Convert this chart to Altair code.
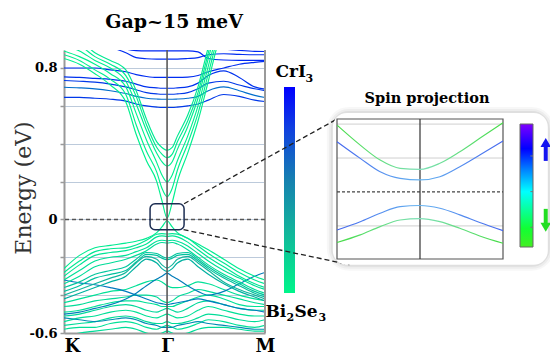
import altair as alt
import pandas as pd

SERIF = "DejaVu Serif"

# ---------------- main panel: K - Gamma - M ----------------
K_PTS = [0, 0.15, 0.3, 0.45, 0.6, 0.7, 0.8, 0.9, 0.95, 1.0, 1.05, 1.1, 1.2, 1.3, 1.4, 1.55, 1.7, 1.85, 1.95]
K_DOMAIN = [0, 1.95]
E_DOMAIN = [-0.6, 0.895]
K_TICKS = [0, 1.0, 1.95]
K_LABELS = ["K", "Γ", "M"]
E_TICKS = [-0.6, -0.4, -0.2, 0, 0.2, 0.4, 0.6, 0.8]
E_LABELED = [(0.8, "0.8"), (0, "0"), (-0.6, "-0.6")]
TITLE = "Gap~15 meV"

# projection weight: 0 = Bi2Se3, 1 = CrI3
COND_BANDS = [
    ("c0", 0.03, [0.85, 0.82, 0.77, 0.71, 0.62, 0.45, 0.31, 0.20, 0.10, 0.007, 0.09, 0.20, 0.35, 0.52, 0.73, 1.05, 1.3, 1.5, 1.6]),
    ("c1", 0.03, [0.87, 0.84, 0.79, 0.74, 0.66, 0.50, 0.36, 0.25, 0.165, 0.12, 0.165, 0.26, 0.40, 0.56, 0.77, 1.08, 1.3, 1.5, 1.6]),
    ("c2", 0.03, [0.89, 0.86, 0.82, 0.77, 0.70, 0.56, 0.42, 0.30, 0.235, 0.198, 0.235, 0.31, 0.44, 0.60, 0.81, 1.1, 1.3, 1.5, 1.6]),
    ("c3", 0.04, [0.92, 0.89, 0.84, 0.80, 0.73, 0.61, 0.47, 0.35, 0.305, 0.282, 0.305, 0.37, 0.49, 0.64, 0.85, 1.15, 1.35, 1.5, 1.6]),
    ("c4", 0.05, [0.95, 0.92, 0.86, 0.82, 0.76, 0.65, 0.50, 0.38, 0.345, 0.326, 0.345, 0.41, 0.52, 0.67, 0.88, 1.2, 1.4, 1.5, 1.6]),
    ("c5", 0.06, [0.98, 0.95, 0.88, 0.84, 0.79, 0.68, 0.53, 0.41, 0.38, 0.365, 0.38, 0.44, 0.55, 0.70, 0.91, 1.2, 1.4, 1.5, 1.6]),
]
CRI3_BANDS = [
    ("bA", 0.92, [0.97, 0.96, 0.95, 0.93, 0.90, 0.892, 0.89, 0.89, 0.89, 0.89, 0.89, 0.89, 0.89, 0.885, 0.85, 0.842, 0.84, 0.84, 0.84]),
    ("bB", 0.90, [0.95, 0.94, 0.93, 0.91, 0.88, 0.855, 0.849, 0.847, 0.847, 0.847, 0.847, 0.847, 0.85, 0.855, 0.87, 0.875, 0.872, 0.87, 0.87]),
    ("bC", 0.92, [0.99, 0.98, 0.97, 0.96, 0.95, 0.94, 0.93, 0.92, 0.92, 0.92, 0.92, 0.92, 0.92, 0.92, 0.91, 0.90, 0.893, 0.888, 0.887]),
    ("bD", 0.90, [0.80, 0.80, 0.80, 0.79, 0.78, 0.765, 0.755, 0.75, 0.75, 0.75, 0.75, 0.75, 0.752, 0.76, 0.78, 0.80, 0.82, 0.83, 0.835]),
    ("bE", 0.88, [0.753, 0.75, 0.745, 0.74, 0.73, 0.715, 0.70, 0.695, 0.693, 0.693, 0.693, 0.695, 0.70, 0.72, 0.76, 0.785, 0.75, 0.70, 0.688]),
    ("bF", 0.85, [0.734, 0.73, 0.725, 0.715, 0.70, 0.685, 0.67, 0.663, 0.661, 0.661, 0.661, 0.663, 0.67, 0.69, 0.72, 0.73, 0.71, 0.69, 0.68]),
    ("bG", 0.65, [0.698, 0.695, 0.69, 0.68, 0.665, 0.65, 0.64, 0.636, 0.635, 0.635, 0.635, 0.636, 0.64, 0.65, 0.68, 0.70, 0.68, 0.655, 0.644]),
    ("bH", 0.85, [0.645, 0.645, 0.64, 0.635, 0.625, 0.61, 0.60, 0.593, 0.591, 0.591, 0.591, 0.593, 0.60, 0.61, 0.63, 0.66, 0.65, 0.63, 0.623]),
]
VAL_BANDS = [
    ("v0", 0.05, [-0.26, -0.19, -0.15, -0.137, -0.125, -0.115, -0.10, -0.07, -0.04, -0.007, -0.04, -0.07, -0.10, -0.13, -0.16, -0.21, -0.26, -0.30, -0.32]),
    ("v1", 0.07, [-0.28, -0.22, -0.17, -0.155, -0.15, -0.135, -0.11, -0.078, -0.075, -0.077, -0.075, -0.078, -0.10, -0.14, -0.18, -0.23, -0.28, -0.32, -0.34]),
    ("v2", 0.08, [-0.30, -0.24, -0.19, -0.175, -0.165, -0.15, -0.13, -0.092, -0.087, -0.09, -0.087, -0.092, -0.12, -0.16, -0.20, -0.25, -0.30, -0.34, -0.36]),
    ("v3", 0.10, [-0.32, -0.27, -0.22, -0.20, -0.19, -0.17, -0.15, -0.115, -0.11, -0.113, -0.11, -0.115, -0.14, -0.18, -0.22, -0.27, -0.31, -0.35, -0.37]),
    ("v4", 0.12, [-0.34, -0.30, -0.25, -0.23, -0.21, -0.19, -0.165, -0.13, -0.122, -0.125, -0.122, -0.13, -0.16, -0.20, -0.24, -0.29, -0.33, -0.37, -0.39]),
    ("v5", 0.22, [-0.36, -0.33, -0.29, -0.27, -0.25, -0.21, -0.175, -0.18, -0.195, -0.204, -0.195, -0.18, -0.175, -0.21, -0.25, -0.30, -0.34, -0.38, -0.40]),
    ("v6", 0.25, [-0.38, -0.35, -0.31, -0.29, -0.27, -0.225, -0.185, -0.19, -0.205, -0.213, -0.205, -0.19, -0.185, -0.22, -0.26, -0.31, -0.35, -0.39, -0.41]),
    ("v7", 0.30, [-0.40, -0.37, -0.34, -0.31, -0.28, -0.23, -0.195, -0.21, -0.24, -0.257, -0.24, -0.21, -0.195, -0.23, -0.27, -0.33, -0.37, -0.40, -0.42]),
    ("v8", 0.32, [-0.42, -0.39, -0.36, -0.33, -0.30, -0.25, -0.21, -0.23, -0.26, -0.275, -0.26, -0.23, -0.21, -0.25, -0.29, -0.34, -0.38, -0.41, -0.43]),
]
DEEP_BANDS = [
    ("d1", 0.10, [-0.44, -0.42, -0.40, -0.38, -0.37, -0.35, -0.33, -0.32, -0.33, -0.35, -0.36, -0.36, -0.35, -0.33, -0.34, -0.37, -0.40, -0.42, -0.43]),
    ("d2", 0.12, [-0.46, -0.45, -0.43, -0.42, -0.41, -0.40, -0.40, -0.41, -0.43, -0.44, -0.43, -0.41, -0.39, -0.37, -0.38, -0.40, -0.42, -0.44, -0.45]),
    ("d3", 0.10, [-0.49, -0.48, -0.46, -0.44, -0.43, -0.43, -0.44, -0.45, -0.46, -0.46, -0.46, -0.45, -0.43, -0.41, -0.40, -0.42, -0.45, -0.46, -0.46]),
    ("d4", 0.14, [-0.51, -0.50, -0.48, -0.46, -0.45, -0.46, -0.48, -0.49, -0.48, -0.47, -0.48, -0.49, -0.47, -0.44, -0.43, -0.45, -0.47, -0.48, -0.48]),
    ("d5", 0.10, [-0.54, -0.52, -0.51, -0.49, -0.48, -0.49, -0.51, -0.52, -0.51, -0.50, -0.51, -0.52, -0.51, -0.48, -0.46, -0.48, -0.50, -0.51, -0.51]),
    ("d6", 0.12, [-0.56, -0.55, -0.54, -0.52, -0.51, -0.52, -0.54, -0.55, -0.55, -0.54, -0.55, -0.55, -0.54, -0.52, -0.50, -0.51, -0.53, -0.54, -0.53]),
    ("d7", 0.10, [-0.58, -0.57, -0.57, -0.55, -0.54, -0.55, -0.57, -0.58, -0.57, -0.56, -0.57, -0.58, -0.57, -0.55, -0.53, -0.54, -0.56, -0.57, -0.56]),
    ("d8", 0.12, [-0.62, -0.60, -0.59, -0.58, -0.57, -0.58, -0.60, -0.61, -0.60, -0.59, -0.60, -0.61, -0.60, -0.58, -0.57, -0.57, -0.58, -0.59, -0.59]),
    ("bl1", 0.58, [-0.50, -0.49, -0.47, -0.45, -0.42, -0.39, -0.35, -0.315, -0.30, -0.284, -0.30, -0.315, -0.35, -0.38, -0.40, -0.38, -0.34, -0.30, -0.28]),
    ("bl2", 0.60, [-0.32, -0.335, -0.345, -0.36, -0.38, -0.40, -0.42, -0.44, -0.445, -0.45, -0.445, -0.44, -0.43, -0.42, -0.43, -0.45, -0.47, -0.48, -0.49]),
    ("bl3", 0.50, [-0.52, -0.53, -0.54, -0.53, -0.52, -0.53, -0.55, -0.56, -0.57, -0.57, -0.57, -0.56, -0.55, -0.54, -0.55, -0.56, -0.57, -0.58, -0.58]),
]
GAP_BOX = {"k0": 0.835, "k1": 1.165, "E0": -0.054, "E1": 0.083}
ZOOM_LINES = {"k0": [1.165, 1.16], "E0": [0.083, -0.054], "k1": [2.655, 2.77], "E1": [0.532, -0.239]}

MAIN_STOPS = [(0, "#00f58a"), (0.3, "#12b59c"), (0.55, "#1680b0"), (0.8, "#1040e0"), (1, "#0000ff")]

# ---------------- inset: spin projection ----------------
INSET_K = [-1, -0.72, -0.48, -0.24, 0, 0.24, 0.48, 0.72, 1]
# (name, edge colour, centre colour, energies in meV)
INSET_BANDS = [
    ("cb_up", "#45dc45", "#7fe0b8", [39.4, 27.6, 18.8, 13.9, 13.3, 16.9, 23.7, 31.6, 40.8]),
    ("cb_lo", "#4466ee", "#66b4f0", [29.6, 19.8, 11.9, 8.0, 7.1, 9.0, 14.9, 21.8, 30.0]),
    ("vb_up", "#4466ee", "#66b4f0", [-22.4, -17.5, -12.5, -8.6, -8.0, -9.6, -13.5, -18.0, -22.8]),
    ("vb_lo", "#45dc45", "#7fe0b8", [-29.8, -25.3, -20.4, -16.5, -15.7, -17.5, -21.4, -25.9, -30.2]),
]
INSET_K_DOMAIN = [-1, 1]
INSET_E_DOMAIN = [-39.5, 43]
INSET_GRID = [-20, 20, 40]
INSET_BOX = {"k0": -1.05, "k1": 1.54, "E0": -42.9, "E1": 46.5}
INSET_TITLE = "Spin projection"
INSET_STOPS = [(0, "#44ee22"), (0.15, "#11ff33"), (0.45, "#00ffff"), (0.62, "#0088ff"), (0.8, "#0000ff"), (1, "#7f00ff")]
INSET_CBAR_TICKS = [0.16, 0.45, 0.74]
ARROWS = [
    {"x": 1.98, "t0": 0.70, "t1": 0.85, "head": "triangle-up", "col": "#1414f0"},
    {"x": 1.98, "t0": 0.31, "t1": 0.16, "head": "triangle-down", "col": "#22dd22"},
]

# ---------------- layout (pixels inside the plot area) ----------------
W, H = 201, 283
INSET_X_RANGE = [273, 439]
INSET_Y_RANGE = [209, 69]
CBAR_X_RANGE = [220, 231]
CBAR_Y_RANGE = [243, 37]
ICBAR_X_RANGE = [456, 469]
ICBAR_Y_RANGE = [197, 74]


def band_df(bands, kpts):
    rows = []
    for name, w, es in bands:
        for k, e in zip(kpts, es):
            rows.append({"band": name, "w": w, "k": k, "E": e})
    return pd.DataFrame(rows)


def cond_expr(pairs, default):
    expr = f"'{default}'"
    for v, lab in reversed(pairs):
        expr = f"datum.value == {v} ? '{lab}' : ({expr})"
    return expr


X_AXIS = alt.Axis(
    values=K_TICKS,
    labelExpr=cond_expr(list(zip(K_TICKS, K_LABELS)), ""),
    grid=False, ticks=False,
    domainColor="#9a9a9a", domainWidth=2,
    labelFont=SERIF, labelFontWeight="bold", labelFontSize=18, labelColor="black",
    labelPadding=4, labelFlush=False,
    labelAlign={"condition": {"test": f"datum.value == {K_TICKS[0]}", "value": "left"}, "value": "center"},
)
Y_AXIS = alt.Axis(
    values=E_TICKS,
    labelExpr=cond_expr(E_LABELED, ""),
    grid=True, gridColor="#bccadb", gridWidth=1,
    tickColor="#9a9a9a", tickSize=4, tickWidth=1.5,
    domainColor="#9a9a9a", domainWidth=2,
    labelFont=SERIF, labelFontWeight="bold", labelFontSize=13, labelColor="black", labelPadding=3,
    titleFont=SERIF, titleFontWeight="normal", titleFontSize=22, titleColor="#333333",
    titleX=-34, titleY=H / 2 - 4, titleAngle=270, titleAlign="center", titleBaseline="alphabetic",
)
xs = alt.Scale(domain=K_DOMAIN, nice=False, zero=False)
ys = alt.Scale(domain=E_DOMAIN, nice=False, zero=False)
MAIN_COLOR = alt.Scale(domain=[s[0] for s in MAIN_STOPS], range=[s[1] for s in MAIN_STOPS])


def MX(f="k"):
    return alt.X(f"{f}:Q", scale=xs, axis=X_AXIS, title=None)


def MY(f="E"):
    return alt.Y(f"{f}:Q", scale=ys, axis=Y_AXIS, title="Energy (eV)")


def band_layer(bands):
    return alt.Chart(band_df(bands, K_PTS)).mark_line(
        clip=True, strokeWidth=1.15, interpolate="monotone"
    ).encode(x=MX(), y=MY(), color=alt.Color("w:Q", scale=MAIN_COLOR, legend=None), detail="band:N")


gamma_line = alt.Chart(pd.DataFrame({"k": [K_TICKS[1]]})).mark_rule(color="#5a5a5a", strokeWidth=1.6).encode(x=MX())
right_edge = alt.Chart(pd.DataFrame({"k": [K_TICKS[2]]})).mark_rule(color="#9a9a9a", strokeWidth=2).encode(x=MX())
zero_line = alt.Chart(pd.DataFrame({"E": [0]})).mark_rule(color="#555555", strokeWidth=1.5, strokeDash=[4, 3]).encode(y=MY())
gap_box = alt.Chart(pd.DataFrame([GAP_BOX])).mark_rect(
    fillOpacity=0, stroke="#1c2d52", strokeWidth=1.5, cornerRadius=5
).encode(x=MX("k0"), x2="k1", y=MY("E0"), y2="E1")

main = alt.layer(
    band_layer(CRI3_BANDS), band_layer(DEEP_BANDS), band_layer(VAL_BANDS), band_layer(COND_BANDS),
    gamma_line, right_edge, zero_line, gap_box,
)

# main colour bar
cx = alt.Scale(domain=[0, 1], range=CBAR_X_RANGE, nice=False, zero=False)
cy = alt.Scale(domain=[0, 1], range=CBAR_Y_RANGE, nice=False, zero=False)
cbar_rect = alt.Chart(pd.DataFrame({"x0": [0], "x1": [1], "t0": [0], "t1": [1]})).mark_rect(
    fill=alt.LinearGradient(
        gradient="linear", x1=0, x2=0, y1=1, y2=0,
        stops=[alt.GradientStop(offset=o, color=c) for o, c in MAIN_STOPS],
    )
).encode(x=alt.X("x0:Q", scale=cx, axis=None), x2="x1", y=alt.Y("t0:Q", scale=cy, axis=None), y2="t1")

CBAR_TEXT = [
    ("CrI", 1, -14, -10, 17),
    ("3", 1, 16, -5, 11),
    ("Bi", 0, -24, 24, 17),
    ("2", 0, -3, 28, 11),
    ("Se", 0, 5, 24, 17),
    ("3", 0, 29, 28, 11),
]
cbar_layers = [cbar_rect]
for txt, t, dx, dy, size in CBAR_TEXT:
    cbar_layers.append(
        alt.Chart(pd.DataFrame({"x": [0.5], "t": [t], "text": [txt]})).mark_text(
            font=SERIF, fontWeight="bold", fontSize=size, align="left", baseline="alphabetic",
            dx=dx, dy=dy, color="black"
        ).encode(x=alt.X("x:Q", scale=cx, axis=None), y=alt.Y("t:Q", scale=cy, axis=None), text="text:N")
    )
cbar_main = alt.layer(*cbar_layers)

# zoom connector lines and the figure title (main coordinates, no axes)
zoom = alt.Chart(pd.DataFrame(ZOOM_LINES)).mark_rule(
    color="#222222", strokeWidth=1.3, strokeDash=[5, 3]
).encode(
    x=alt.X("k0:Q", scale=xs, axis=None), x2="k1",
    y=alt.Y("E0:Q", scale=ys, axis=None), y2="E1",
)
title_text = alt.Chart(pd.DataFrame({"k": [K_TICKS[1]], "E": [E_DOMAIN[1]], "text": [TITLE]})).mark_text(
    font=SERIF, fontWeight="bold", fontSize=19, color="black", align="center", baseline="alphabetic",
    dx=7, dy=-22,
).encode(x=alt.X("k:Q", scale=xs, axis=None), y=alt.Y("E:Q", scale=ys, axis=None), text="text:N")
annot = alt.layer(zoom, title_text)

# inset
isx = alt.Scale(domain=INSET_K_DOMAIN, range=INSET_X_RANGE, nice=False, zero=False)
isy = alt.Scale(domain=INSET_E_DOMAIN, range=INSET_Y_RANGE, nice=False, zero=False)


def IX(f):
    return alt.X(f"{f}:Q", scale=isx, axis=None)


def IY(f):
    return alt.Y(f"{f}:Q", scale=isy, axis=None)


box_df = pd.DataFrame([INSET_BOX])
shadows = [
    alt.Chart(box_df).mark_rect(cornerRadius=16, fillOpacity=0, stroke="black", strokeOpacity=op, strokeWidth=sw)
    .encode(x=IX("k0"), x2="k1", y=IY("E0"), y2="E1")
    for sw, op in [(12, 0.03), (8, 0.04), (4, 0.06)]
]
white_box = alt.Chart(box_df).mark_rect(cornerRadius=14, fill="white").encode(
    x=IX("k0"), x2="k1", y=IY("E0"), y2="E1"
)
grid_df = pd.DataFrame({"E": INSET_GRID, "k0": INSET_K_DOMAIN[0], "k1": INSET_K_DOMAIN[1]})
inset_grid = alt.Chart(grid_df).mark_rule(color="#cfcfcf", strokeWidth=1).encode(
    x=IX("k0"), x2="k1", y=IY("E")
)
frame_df = pd.DataFrame({"k0": [INSET_K_DOMAIN[0]], "k1": [INSET_K_DOMAIN[1]],
                         "E0": [INSET_E_DOMAIN[0]], "E1": [INSET_E_DOMAIN[1]]})
inset_frame = alt.Chart(frame_df).mark_rect(fillOpacity=0, stroke="#555555", strokeWidth=1.2).encode(
    x=IX("k0"), x2="k1", y=IY("E0"), y2="E1"
)
inset_zero = alt.Chart(pd.DataFrame({"E": [0], "k0": [INSET_K_DOMAIN[0]], "k1": [INSET_K_DOMAIN[1]]})).mark_rule(
    color="#444444", strokeWidth=1.3, strokeDash=[3, 2]
).encode(x=IX("k0"), x2="k1", y=IY("E"))
inset_gamma = alt.Chart(pd.DataFrame({"k": [0], "E0": [INSET_E_DOMAIN[0]], "E1": [INSET_E_DOMAIN[1]]})).mark_rule(
    color="#333333", strokeWidth=1.2
).encode(x=IX("k"), y=IY("E0"), y2="E1")
inset_line_layers = []
for name, edge_col, mid_col, es in INSET_BANDS:
    inset_line_layers.append(
        alt.Chart(pd.DataFrame({"k": INSET_K, "E": es})).mark_line(
            strokeWidth=1.15, interpolate="monotone",
            stroke=alt.LinearGradient(
                gradient="linear", x1=0, x2=1, y1=0, y2=0,
                stops=[alt.GradientStop(offset=0, color=edge_col),
                       alt.GradientStop(offset=0.5, color=mid_col),
                       alt.GradientStop(offset=1, color=edge_col)],
            ),
        ).encode(x=IX("k"), y=IY("E"))
    )
inset_title = alt.Chart(pd.DataFrame({"k": [0], "E": [INSET_BOX["E1"]], "text": [INSET_TITLE]})).mark_text(
    font=SERIF, fontWeight="bold", fontSize=14.5, dx=7, dy=-10, baseline="alphabetic", color="black"
).encode(x=IX("k"), y=IY("E"), text="text:N")

inset = alt.layer(*shadows, white_box, inset_grid, inset_frame, inset_zero, inset_gamma,
                  *inset_line_layers, inset_title)

# inset colour bar and arrows
icx = alt.Scale(domain=[0, 1], range=ICBAR_X_RANGE, nice=False, zero=False)
icy = alt.Scale(domain=[0, 1], range=ICBAR_Y_RANGE, nice=False, zero=False)
icbar_rect = alt.Chart(pd.DataFrame({"x0": [0], "x1": [1], "t0": [0], "t1": [1]})).mark_rect(
    stroke="#666666", strokeWidth=1,
    fill=alt.LinearGradient(
        gradient="linear", x1=0, x2=0, y1=1, y2=0,
        stops=[alt.GradientStop(offset=o, color=c) for o, c in INSET_STOPS],
    ),
).encode(x=alt.X("x0:Q", scale=icx, axis=None), x2="x1", y=alt.Y("t0:Q", scale=icy, axis=None), y2="t1")
icbar_ticks = alt.Chart(pd.DataFrame({"t": INSET_CBAR_TICKS, "x0": 0.8, "x1": 1.0})).mark_rule(
    color="#777777", strokeWidth=1
).encode(x=alt.X("x0:Q", scale=icx, axis=None), x2="x1", y=alt.Y("t:Q", scale=icy, axis=None))
arrows_df = pd.DataFrame(ARROWS)
arrow_shafts = alt.Chart(arrows_df).mark_rule(strokeWidth=4).encode(
    x=alt.X("x:Q", scale=icx, axis=None), y=alt.Y("t0:Q", scale=icy, axis=None), y2="t1",
    color=alt.Color("col:N", scale=None),
)
arrow_heads = alt.Chart(arrows_df).mark_point(filled=True, size=110, opacity=1).encode(
    x=alt.X("x:Q", scale=icx, axis=None), y=alt.Y("t1:Q", scale=icy, axis=None),
    color=alt.Color("col:N", scale=None), shape=alt.Shape("head:N", scale=None),
)
cbar_inset = alt.layer(icbar_rect, icbar_ticks, arrow_shafts, arrow_heads)

chart = alt.layer(main, cbar_main, annot, inset, cbar_inset).resolve_scale(
    x="independent", y="independent", color="independent", shape="independent"
).properties(
    width=W, height=H,
    autosize=alt.AutoSizeParams(type="none"),
    padding={"left": 64, "top": 50, "right": 550 - 64 - W, "bottom": 358 - 50 - H},
    background="white",
).configure_view(stroke=None)

chart.save("out.html", embed_options={"renderer": "svg", "actions": False})
